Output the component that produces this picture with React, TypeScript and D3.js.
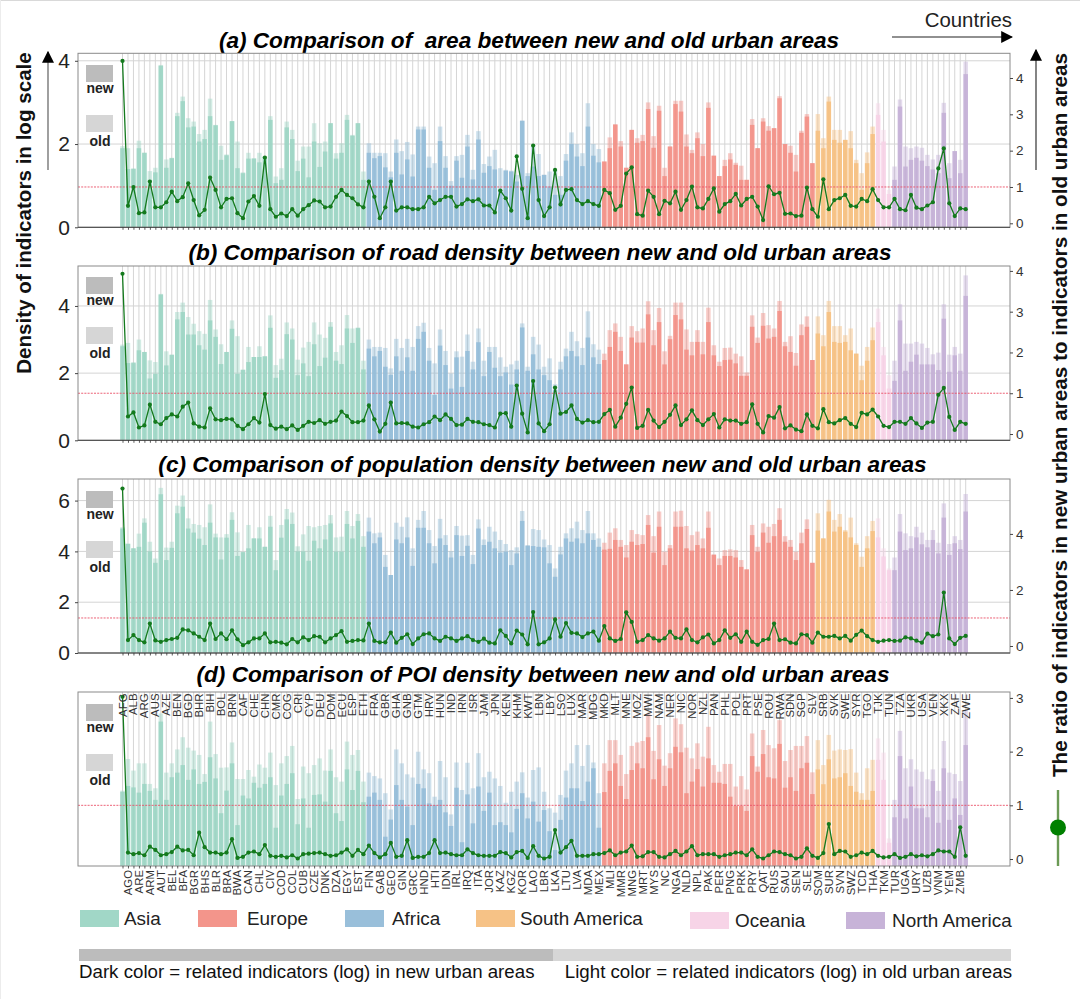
import { useEffect, useRef } from 'react';
import * as d3 from 'd3';

const countries = [
  'AFG','AGO','ALB','ARE','ARG','ARM','AUS','AUT','AZE','BEL',
  'BEN','BFA','BGD','BGR','BHR','BHS','BIH','BLR','BOL','BRA',
  'BRN','BWA','CAF','CAN','CHE','CHL','CHN','CIV','CMR','COD',
  'COG','COL','CRI','CUB','CYP','CZE','DEU','DNK','DOM','DZA',
  'ECU','EGY','ESP','EST','ETH','FIN','FRA','GAB','GBR','GEO',
  'GHA','GIN','GNB','GRC','GTM','HND','HRV','HTI','HUN','IDN',
  'IND','IRL','IRN','IRQ','ISR','ITA','JAM','JOR','JPN','KAZ',
  'KEN','KGZ','KHM','KOR','KWT','LAO','LBN','LBR','LBY','LKA',
  'LSO','LTU','LUX','LVA','MAR','MDA','MDG','MEX','MKD','MLI',
  'MLT','MMR','MNE','MNG','MOZ','MRT','MWI','MYS','NAM','NC',
  'NER','NGA','NIC','NLD','NOR','NPL','NZL','PAK','PAN','PER',
  'PHL','PNG','POL','PRK','PRT','PRY','PSE','QAT','ROU','RUS',
  'RWA','SAU','SDN','SEN','SGP','SLE','SLV','SOM','SRB','SUR',
  'SVK','SVN','SWE','SWZ','SYR','TCD','TGO','THA','TJK','TKM',
  'TUN','TUR','TZA','UGA','UKR','URY','USA','UZB','VEN','VNM',
  'XKX','YEM','ZAF','ZMB','ZWE',
];

// bars per group, in the order they run along the x axis
const groupNames = ['Asia', 'Africa', 'Europe', 'South America', 'Oceania', 'North America'];
const groupCounts = [45, 43, 39, 11, 3, 14];
const groupColors = ['#9cd5c4', '#93bcd8', '#f28f85', '#f6bf7f', '#f7d2e6', '#c4afd6'];

const aOld = [
  1.95,1.9,1.42,2.08,1.79,1.35,1.43,3.9,1.63,1.67,
  2.75,3.14,2.62,2.54,2.24,2.34,3.09,2.46,1.96,1.75,
  2.55,2.06,1.32,1.79,1.66,1.79,1.7,2.67,1.22,1.42,
  2.54,2.34,1.6,1.94,1.94,2.5,2.02,2.06,2.5,1.78,
  2.02,2.7,2.22,2.5,1.34,2.02,1.79,1.79,1.78,1.34,
  2.11,1.83,2.05,1.75,2.42,2.42,1.7,1.54,2.42,1.71,
  1.11,1.71,1.74,2.22,1.38,2.31,1.52,1.7,1.86,1.42,
  1.38,1.36,1.26,2.56,1.3,1.96,1.76,1.26,1.34,1.38,
  1.23,1.76,2.28,2.0,1.78,2.98,2.0,1.88,1.58,2.16,
  2.47,2.07,1.43,2.34,2.14,2.22,3.0,2.19,2.92,1.43,
  1.94,3.04,3.04,2.23,1.86,2.28,2.0,3.0,1.72,1.23,
  1.62,1.78,1.55,1.48,1.14,2.6,1.9,2.62,2.43,2.38,
  3.15,2.0,1.96,1.74,2.32,2.72,1.54,2.72,2.14,3.14,
  2.34,2.34,2.1,2.31,1.62,1.3,1.8,2.42,2.98,2.34,
  0.9,1.46,3.07,1.94,1.9,1.94,1.91,1.74,1.63,1.74,
  2.99,1.54,1.83,1.62,3.98,
];
const aNew = [
  1.9,1.4,1.4,1.9,1.79,1.14,1.32,3.88,1.43,1.66,
  2.67,3.03,2.4,2.42,2.06,2.12,2.67,2.45,1.62,1.73,
  2.55,1.42,1.3,1.65,1.65,1.56,1.7,2.58,1.06,1.14,
  2.4,2.12,1.35,1.65,1.2,2.06,1.45,1.82,2.5,1.65,
  1.79,2.58,2.2,2.5,1.14,1.79,1.66,1.71,1.44,1.2,
  1.79,1.27,1.63,1.22,2.35,2.35,1.43,0.9,2.07,1.43,
  1.0,1.6,1.19,1.94,1.15,2.11,1.31,1.47,1.39,0.9,
  1.36,1.34,1.1,2.56,1.23,1.46,1.23,1.26,0.98,0.78,
  0.78,1.6,2.0,1.7,1.47,2.42,1.72,1.56,1.58,1.9,
  2.47,1.94,1.43,2.34,2.03,2.07,2.84,1.91,2.8,1.23,
  1.94,2.96,2.78,1.94,1.78,2.14,1.71,2.87,1.72,1.23,
  1.47,1.63,1.5,1.14,1.14,2.46,1.9,2.54,2.32,2.38,
  3.1,2.0,1.79,1.34,2.27,2.66,1.54,2.32,1.9,3.02,
  2.1,2.03,2.1,1.9,1.54,0.9,1.54,2.24,2.7,2.06,
  0.8,1.14,2.9,1.46,1.62,1.67,1.6,1.47,1.39,1.3,
  2.75,1.18,1.83,1.3,3.68,
];
const aRatio = [
  4.47,0.48,1.0,0.28,0.3,1.15,0.44,0.44,0.58,0.87,
  0.61,0.72,1.1,0.64,0.22,0.37,1.26,0.92,0.44,0.67,
  0.69,0.28,0.14,0.6,0.75,0.48,1.81,0.39,0.18,0.27,
  0.2,0.39,0.21,0.39,0.5,0.63,0.6,0.44,0.46,0.73,
  0.92,0.78,0.69,0.52,0.44,1.15,0.73,0.14,0.44,1.15,
  0.35,0.44,0.44,0.39,0.39,0.44,0.73,0.55,0.64,0.73,
  0.73,0.46,0.53,0.66,0.61,0.66,0.49,0.49,0.3,0.9,
  0.69,0.35,1.84,0.95,0.14,2.14,0.64,0.2,0.44,1.47,
  0.52,0.92,0.94,0.64,0.53,0.61,0.53,0.48,0.92,0.83,
  0.37,0.48,1.37,1.54,0.25,0.21,0.9,0.73,0.25,0.62,
  0.55,0.87,0.37,0.64,1.01,0.44,0.41,0.67,0.96,0.32,
  0.53,0.61,0.81,0.49,0.67,0.73,0.46,0.09,1.02,0.8,
  0.84,0.26,0.27,0.2,0.21,0.98,0.39,0.18,1.21,0.39,
  0.64,0.69,0.78,0.48,0.46,0.67,0.61,0.94,0.64,0.44,
  0.44,0.67,0.39,0.36,0.78,0.43,0.39,0.49,0.58,1.51,
  2.06,0.55,0.2,0.41,0.39,
];

const bOld = [
  2.85,2.9,2.33,3.0,2.63,2.38,2.33,4.36,2.65,2.56,
  3.82,4.1,3.67,3.47,3.25,3.17,4.18,3.3,2.86,2.63,
  3.57,3.1,2.1,2.78,2.48,2.8,2.5,3.72,2.24,2.43,
  3.51,3.33,2.4,2.76,2.93,3.51,3.15,3.05,3.52,2.63,
  2.83,3.73,3.33,3.36,2.37,3.0,2.78,2.78,2.75,2.14,
  3.02,2.75,3.02,2.78,3.4,3.5,2.75,2.29,3.3,2.66,
  1.99,2.65,2.49,3.15,2.34,3.33,2.37,2.78,2.78,2.47,
  2.19,2.26,2.37,3.48,2.19,3.08,2.85,2.19,2.44,1.67,
  2.34,2.73,3.23,2.95,2.75,3.84,2.86,2.7,2.58,3.28,
  3.48,3.08,2.26,3.4,3.25,3.33,4.14,3.28,3.94,2.65,
  3.11,4.1,4.1,3.3,2.93,3.28,2.93,3.95,2.83,2.34,
  2.75,2.76,2.58,2.5,2.02,3.72,3.06,3.79,3.43,3.33,
  4.15,2.93,3.1,2.6,3.45,3.69,2.39,3.69,3.13,4.15,
  3.4,3.4,3.13,3.33,2.58,2.22,2.78,3.36,3.92,2.78,
  1.94,2.37,4.05,2.88,2.88,2.93,2.88,2.75,2.56,2.61,
  4.05,2.55,2.78,2.58,4.91,
];
const bNew = [
  2.8,2.3,2.3,2.68,2.63,1.84,1.98,4.34,2.23,2.54,
  3.6,3.82,3.15,3.15,2.83,2.7,3.57,3.08,2.27,2.63,
  3.32,1.98,2.1,2.33,2.48,2.48,2.5,3.35,1.86,2.09,
  3.16,3.0,1.94,2.29,1.91,2.86,2.21,2.46,3.38,2.37,
  2.27,3.33,2.9,3.34,2.11,2.73,2.5,2.66,2.19,1.95,
  2.5,2.07,2.47,2.07,3.02,3.23,2.37,1.35,2.82,2.24,
  1.54,2.47,1.59,2.66,2.11,2.92,1.91,2.63,2.16,1.91,
  2.02,1.66,2.11,3.36,2.07,2.56,2.11,1.94,1.79,1.5,
  2.11,2.5,2.66,2.5,2.24,3.06,2.47,2.27,2.39,2.78,
  3.23,2.66,2.26,3.06,2.91,2.91,3.75,2.83,3.52,2.26,
  3.01,3.73,3.6,2.7,2.53,2.93,2.56,3.52,2.53,2.21,
  2.39,2.4,2.29,1.92,1.92,3.38,2.9,3.41,3.03,3.08,
  3.85,2.8,2.63,2.22,3.13,3.38,2.39,3.18,2.8,3.82,
  2.93,2.9,2.93,2.68,2.58,1.79,2.37,2.98,3.52,2.53,
  1.54,1.77,3.57,2.07,2.34,2.55,2.26,2.26,2.26,2.09,
  3.62,2.04,2.53,2.07,4.3,
];
const bRatio = [
  3.93,0.43,0.53,0.16,0.21,0.72,0.3,0.24,0.39,0.48,
  0.43,0.67,0.77,0.26,0.18,0.16,0.63,0.36,0.34,0.37,
  0.36,0.2,0.12,0.24,0.39,0.28,0.98,0.22,0.13,0.18,
  0.12,0.21,0.1,0.2,0.3,0.27,0.34,0.25,0.3,0.33,
  0.55,0.44,0.29,0.29,0.33,0.7,0.36,0.06,0.25,0.77,
  0.26,0.27,0.26,0.18,0.16,0.24,0.29,0.43,0.34,0.48,
  0.37,0.22,0.23,0.37,0.3,0.29,0.24,0.22,0.16,0.5,
  0.51,0.18,1.19,0.5,0.04,1.3,0.26,0.07,0.24,1.14,
  0.5,0.54,0.7,0.37,0.28,0.34,0.29,0.3,0.49,0.59,
  0.18,0.4,0.74,1.14,0.15,0.2,0.59,0.33,0.17,0.3,
  0.47,0.7,0.22,0.36,0.58,0.34,0.22,0.36,0.49,0.16,
  0.36,0.33,0.33,0.25,0.29,0.73,0.25,0.04,0.44,0.4,
  0.66,0.14,0.21,0.11,0.07,0.48,0.2,0.14,0.61,0.29,
  0.26,0.34,0.39,0.25,0.17,0.52,0.48,0.6,0.43,0.2,
  0.17,0.3,0.3,0.25,0.39,0.26,0.15,0.28,0.3,0.96,
  1.13,0.42,0.1,0.3,0.25,
];

const cOld = [
  4.95,4.3,4.12,4.7,5.3,4.38,3.72,6.5,4.15,4.38,
  5.8,6.2,5.3,5.08,5.04,4.95,5.85,4.7,4.55,4.68,
  5.54,4.75,3.99,5.04,4.51,4.95,4.18,5.4,3.66,5.04,
  5.67,5.53,4.2,4.67,5.0,4.95,5.0,5.04,5.43,4.55,
  4.58,5.59,5.0,5.47,4.6,5.33,4.71,4.74,3.86,3.07,
  5.13,4.97,5.34,4.12,5.24,5.59,4.84,4.21,5.28,4.64,
  4.01,5.0,4.62,4.64,3.86,5.26,4.47,4.97,4.78,4.45,
  4.29,4.05,4.16,5.59,4.25,4.88,4.84,4.47,4.25,3.33,
  4.18,4.71,4.91,5.17,4.84,5.59,4.71,4.51,4.34,4.74,
  4.91,4.45,4.25,4.84,4.68,4.64,5.43,4.6,5.57,3.99,
  4.25,5.57,5.6,5.0,4.64,4.78,4.51,5.57,3.89,3.72,
  4.05,4.08,4.05,3.66,3.29,5.04,4.18,5.1,4.97,5.08,
  5.7,4.6,4.45,3.99,4.74,5.26,3.55,5.5,4.51,6.03,
  5.24,5.47,4.84,5.33,4.32,3.79,4.6,5.2,5.3,4.12,
  3.33,3.76,5.47,4.71,4.6,4.97,4.74,4.45,4.84,4.34,
  5.89,4.29,4.6,4.45,6.26,
];
const cNew = [
  4.9,4.3,4.12,4.18,5.13,4.0,3.55,6.25,3.66,4.14,
  5.5,5.76,4.9,4.74,4.5,4.25,5.13,4.55,3.68,4.54,
  5.24,3.82,3.97,4.12,4.51,4.51,4.18,4.97,3.26,4.54,
  5.26,5.08,4.0,4.0,3.63,4.42,4.12,4.47,5.1,3.99,
  3.99,5.08,4.51,5.2,4.18,4.78,4.32,4.55,3.39,3.07,
  4.47,4.32,4.55,3.43,4.93,4.93,4.32,3.53,4.51,4.25,
  3.76,4.64,3.82,4.22,3.5,4.9,4.25,4.38,4.12,3.95,
  3.99,3.46,3.92,5.2,4.22,4.21,4.18,4.16,3.53,3.0,
  3.88,4.51,4.38,4.51,4.32,4.71,4.45,4.18,4.07,4.1,
  4.45,4.18,3.76,4.38,4.25,4.29,5.04,3.95,4.97,3.46,
  4.12,4.97,4.97,4.12,4.03,4.25,4.12,4.93,3.86,3.46,
  3.82,3.82,3.76,3.39,3.29,4.64,3.99,4.74,4.34,4.6,
  5.24,4.38,4.18,3.66,4.32,4.88,3.55,4.82,4.51,5.57,
  4.78,4.97,4.78,4.55,4.25,3.39,4.12,4.8,4.55,3.8,
  3.26,3.26,4.78,4.05,4.12,4.55,4.28,4.16,4.45,3.92,
  5.33,3.86,4.32,4.09,5.57,
];
const cRatio = [
  5.62,0.21,0.39,0.21,0.13,0.8,0.2,0.15,0.21,0.25,
  0.29,0.59,0.56,0.45,0.33,0.21,0.8,0.25,0.45,0.24,
  0.56,0.24,0.03,0.13,0.27,0.27,0.45,0.13,0.15,0.12,
  0.06,0.25,0.13,0.31,0.21,0.35,0.33,0.13,0.27,0.39,
  0.53,0.15,0.18,0.21,0.2,0.8,0.18,0.13,0.13,0.48,
  0.12,0.29,0.42,0.07,0.27,0.42,0.45,0.27,0.18,0.33,
  0.27,0.18,0.27,0.35,0.21,0.15,0.26,0.12,0.09,0.56,
  0.36,0.09,0.55,0.41,0.06,1.21,0.06,0.13,0.27,0.95,
  0.33,0.82,0.47,0.45,0.32,0.45,0.51,0.19,0.71,0.27,
  0.18,0.25,1.2,0.86,0.15,0.21,0.39,0.27,0.19,0.27,
  0.51,0.29,0.27,0.59,0.21,0.13,0.31,0.41,0.09,0.21,
  0.56,0.29,0.42,0.15,0.51,0.15,0.04,0.21,0.25,0.8,
  0.21,0.24,0.12,0.09,0.42,0.39,0.12,0.48,0.33,0.33,
  0.36,0.27,0.36,0.19,0.4,0.55,0.35,0.21,0.15,0.19,
  0.21,0.18,0.19,0.31,0.27,0.19,0.12,0.44,0.35,0.41,
  1.91,0.27,0.07,0.29,0.36,
];

const dOld = [
  2.6,3.69,3.29,3.54,3.54,2.83,2.68,5.26,3.22,3.54,
  4.02,4.44,4.08,3.98,3.83,3.17,4.98,3.86,3.39,3.4,
  4.26,3.0,3.0,3.31,3.08,3.5,3.39,3.91,2.79,3.54,
  3.79,4.14,2.31,3.43,3.2,3.48,3.71,3.29,4.02,3.06,
  2.91,4.29,3.83,4.0,2.91,3.22,3.1,3.02,2.51,1.95,
  4.02,3.54,3.16,3.05,3.94,3.33,3.2,2.39,3.62,3.06,
  1.78,3.57,2.62,3.56,2.68,3.89,3.06,3.25,3.02,2.76,
  2.18,2.56,2.91,3.23,2.36,3.31,3.4,2.56,1.99,1.84,
  2.45,3.29,3.54,4.17,3.45,4.17,3.57,2.51,3.54,4.34,
  4.34,3.83,3.17,4.14,4.26,4.31,5.26,3.97,4.86,3.46,
  3.89,5.09,4.89,4.08,3.71,4.23,3.77,4.8,3.48,3.25,
  3.52,3.52,2.74,3.1,2.64,4.57,3.43,4.69,4.17,4.06,
  5.03,3.62,4.0,4.14,4.14,4.48,3.23,4.34,3.48,4.52,
  3.98,4.02,4.0,4.03,3.22,2.51,3.37,3.66,4.4,3.91,
  0.95,2.28,4.66,3.37,3.68,3.33,3.25,2.99,3.33,2.59,
  4.31,3.22,3.17,2.93,5.38,
];
const dNew = [
  2.56,2.76,2.71,2.53,2.83,2.59,2.28,4.98,2.28,3.06,
  3.22,3.48,2.97,3.33,2.83,2.9,3.75,3.02,1.82,2.6,
  3.54,1.41,2.43,2.33,2.87,2.7,2.83,3.06,1.32,2.43,
  2.83,3.2,1.44,2.33,1.32,2.45,2.47,2.22,3.28,1.82,
  1.55,3.33,2.62,3.28,2.2,2.39,2.53,2.28,1.01,1.6,
  2.79,2.28,2.05,1.41,2.83,2.68,2.16,2.1,2.28,1.85,
  1.38,2.7,0.82,2.47,1.47,2.74,1.9,2.53,1.41,1.51,
  1.41,1.16,1.97,2.51,1.64,2.22,1.53,1.93,1.2,0.55,
  1.59,2.36,2.68,2.68,2.24,2.91,3.37,1.32,2.55,3.28,
  3.54,2.76,2.31,3.31,3.54,3.37,4.44,2.99,3.68,2.76,
  3.37,4.11,3.92,2.51,2.91,3.34,2.74,3.71,2.87,2.87,
  2.83,2.39,2.08,2.07,1.9,3.79,3.25,3.86,3.06,3.02,
  4.21,2.7,3.06,2.59,3.37,3.56,2.48,3.33,2.82,3.68,
  3.02,3.06,3.2,2.76,2.56,2.28,2.28,2.59,3.66,2.97,
  0.8,1.68,3.79,1.64,2.74,1.99,1.99,1.68,2.93,1.49,
  3.37,1.59,2.33,1.76,4.17,
];
const dRatio = [
  3.02,0.12,0.09,0.11,0.07,0.23,0.17,0.07,0.09,0.13,
  0.23,0.16,0.17,0.07,0.49,0.22,0.12,0.12,0.09,0.12,
  0.37,0.02,0.04,0.12,0.14,0.09,0.26,0.06,0.04,0.06,
  0.03,0.07,0.01,0.09,0.1,0.11,0.12,0.09,0.06,0.07,
  0.12,0.18,0.06,0.17,0.09,0.25,0.11,0.03,0.09,0.3,
  0.04,0.06,0.35,0.02,0.04,0.04,0.11,0.35,0.11,0.12,
  0.09,0.07,0.07,0.18,0.11,0.07,0.06,0.06,0.06,0.13,
  0.11,0.03,0.13,0.15,0.02,0.24,0.06,0.01,0.04,0.54,
  0.12,0.22,0.34,0.06,0.06,0.06,0.09,0.09,0.11,0.16,
  0.07,0.12,0.14,0.25,0.04,0.05,0.13,0.13,0.04,0.03,
  0.09,0.15,0.07,0.14,0.24,0.07,0.09,0.09,0.09,0.04,
  0.07,0.09,0.12,0.12,0.07,0.18,0.04,0.01,0.07,0.14,
  0.13,0.09,0.07,0.01,0.04,0.2,0.06,0.02,0.11,0.65,
  0.09,0.15,0.14,0.04,0.07,0.12,0.09,0.15,0.06,0.03,
  0.04,0.09,0.02,0.04,0.09,0.05,0.07,0.05,0.09,0.16,
  0.14,0.14,0.04,0.59,0.06,
];

const titles = [
  '(a) Comparison of  area between new and old urban areas',
  '(b) Comparison of road density between new and old urban areas',
  '(c) Comparison of population density between new and old urban areas',
  '(d) Comparison of POI density between new and old urban areas',
];

const panels = [
  { title: titles[0], old: aOld, neu: aNew, ratio: aRatio, top: 53.3, bottom: 227.3, titleY: 48, leftMax: 4.18, leftTicks: [0, 2, 4], grid: [2, 4], rightDomain: [-0.11, 4.68], rightTicks: [0, 1, 2, 3, 4], keyY: 65 },
  { title: titles[1], old: bOld, neu: bNew, ratio: bRatio, top: 266, bottom: 440.3, titleY: 260, leftMax: 5.19, leftTicks: [0, 2, 4], grid: [2, 4], rightDomain: [-0.154, 4.12], rightTicks: [0, 1, 2, 3, 4], keyY: 277 },
  { title: titles[2], old: cOld, neu: cNew, ratio: cRatio, top: 479, bottom: 653, titleY: 472, leftMax: 6.85, leftTicks: [0, 2, 4, 6], grid: [2, 4, 6], rightDomain: [-0.25, 5.96], rightTicks: [0, 2, 4], keyY: 491 },
  { title: titles[3], old: dOld, neu: dNew, ratio: dRatio, top: 692, bottom: 866, titleY: 682, leftMax: 6, leftTicks: [] as number[], grid: [] as number[], rightDomain: [-0.13, 3.11], rightTicks: [0, 1, 2, 3], keyY: 704 },
];

const legendItems = [
  { name: 'Asia', x: 80, tx: 124, y: 910 },
  { name: 'Europe', x: 198, tx: 247, y: 910 },
  { name: 'Africa', x: 345, tx: 392, y: 910 },
  { name: 'South America', x: 476, tx: 520, y: 910 },
  { name: 'Oceania', x: 690, tx: 735, y: 912 },
  { name: 'North America', x: 846, tx: 892, y: 912 },
];

const FONT = '"Liberation Sans", Arial, sans-serif';

function groupOf(i: number) {
  let n = 0;
  for (let g = 0; g < groupCounts.length; g++) {
    n += groupCounts[g];
    if (i < n) return g;
  }
  return groupCounts.length - 1;
}

export default function App() {
  const svgRef = useRef<SVGSVGElement | null>(null);

  useEffect(() => {
    if (!svgRef.current) return;
    const svg = d3.select(svgRef.current);
    svg.selectAll('*').remove();
    svg.style('font-family', FONT);

    const boxLeft = 78;
    const boxRight = 1010;
    const x = d3.scalePoint<string>().domain(countries).range([122.5, 965.7]);
    const barW = 4.5;
    const color = d3.scaleOrdinal<string, string>().domain(groupNames).range(groupColors);

    // arrowhead
    const defs = svg.append('defs');
    defs.append('marker').attr('id', 'head')
      .attr('viewBox', '0 0 10 10').attr('refX', 9).attr('refY', 5)
      .attr('markerWidth', 12).attr('markerHeight', 12).attr('markerUnits', 'userSpaceOnUse')
      .attr('orient', 'auto')
      .append('path').attr('d', 'M0,0L10,5L0,10Z').attr('fill', '#000');

    // faint page edge of the picture
    svg.append('line').attr('x1', 0).attr('x2', 1080).attr('y1', 0.5).attr('y2', 0.5).attr('stroke', '#d9d9d9');
    svg.append('line').attr('x1', 0.5).attr('x2', 0.5).attr('y1', 0).attr('y2', 999).attr('stroke', '#ececec');

    panels.forEach((p, pi) => {
      const g = svg.append('g');
      const yL = d3.scaleLinear().domain([0, p.leftMax]).range([p.bottom, p.top]);
      const yR = d3.scaleLinear().domain(p.rightDomain).range([p.bottom, p.top]);

      g.append('text')
        .attr('x', 540 + [-11, 0, 2.5, 3][pi])
        .attr('y', p.titleY)
        .attr('text-anchor', 'middle')
        .attr('font-size', 22.6)
        .attr('font-weight', 700)
        .attr('font-style', 'italic')
        .attr('xml:space', 'preserve')
        .style('white-space', 'pre')
        .attr('fill', '#000')
        .text(p.title);

      // vertical and horizontal grid
      g.selectAll('.vg').data(countries).enter().append('line')
        .attr('x1', (d) => x(d) ?? 0).attr('x2', (d) => x(d) ?? 0)
        .attr('y1', p.top).attr('y2', p.bottom)
        .attr('stroke', '#cacaca').attr('stroke-width', 0.8);
      g.selectAll('.hg').data(p.grid).enter().append('line')
        .attr('x1', boxLeft).attr('x2', boxRight)
        .attr('y1', (d) => yL(d)).attr('y2', (d) => yL(d))
        .attr('stroke', '#d4d4d4').attr('stroke-width', 1);

      // old urban areas behind, new urban areas in front
      g.selectAll('.old').data(p.old).enter().append('rect')
        .attr('x', (_d, i) => (x(countries[i]) ?? 0) - barW / 2)
        .attr('width', barW)
        .attr('y', (d) => yL(d))
        .attr('height', (d) => p.bottom - yL(d))
        .attr('fill', (_d, i) => color(groupNames[groupOf(i)]))
        .attr('fill-opacity', 0.45);
      g.selectAll('.neu').data(p.neu).enter().append('rect')
        .attr('x', (_d, i) => (x(countries[i]) ?? 0) - barW / 2)
        .attr('width', barW)
        .attr('y', (d) => yL(d))
        .attr('height', (d) => p.bottom - yL(d))
        .attr('fill', (_d, i) => color(groupNames[groupOf(i)]))
        .attr('fill-opacity', 0.88);

      // ratio = 1
      g.append('line')
        .attr('x1', boxLeft).attr('x2', boxRight)
        .attr('y1', yR(1)).attr('y2', yR(1))
        .attr('stroke', '#ea5068').attr('stroke-width', 0.9)
        .attr('stroke-dasharray', '2,1.2');

      // ratio line
      const line = d3.line<number>()
        .x((_d, i) => x(countries[i]) ?? 0)
        .y((d) => yR(d));
      g.append('path').datum(p.ratio)
        .attr('fill', 'none').attr('stroke', '#147a1d').attr('stroke-width', 1.3)
        .attr('d', line);
      g.selectAll('.dot').data(p.ratio).enter().append('circle')
        .attr('cx', (_d, i) => x(countries[i]) ?? 0)
        .attr('cy', (d) => yR(d))
        .attr('r', 2.1)
        .attr('fill', '#147a1d');

      // panel box
      g.append('rect')
        .attr('x', boxLeft).attr('y', p.top)
        .attr('width', boxRight - boxLeft).attr('height', p.bottom - p.top)
        .attr('fill', 'none').attr('stroke', '#8a8a8a').attr('stroke-width', 1);

      // new / old key
      g.append('rect').attr('x', 86).attr('y', p.keyY).attr('width', 27).attr('height', 17).attr('fill', '#bcbcbc');
      g.append('text').attr('x', 100).attr('y', p.keyY + 28).attr('text-anchor', 'middle')
        .attr('font-size', 14).attr('font-weight', 700).attr('fill', '#222').text('new');
      g.append('rect').attr('x', 86).attr('y', p.keyY + 50).attr('width', 27).attr('height', 17).attr('fill', '#d6d6d6');
      g.append('text').attr('x', 100).attr('y', p.keyY + 81).attr('text-anchor', 'middle')
        .attr('font-size', 14).attr('font-weight', 700).attr('fill', '#222').text('old');

      // left axis
      if (p.leftTicks.length) {
        const ax = g.append('g').attr('transform', `translate(${boxLeft},0)`)
          .call(d3.axisLeft(yL).tickValues(p.leftTicks).tickSize(3).tickPadding(5).tickFormat((d) => String(d)));
        ax.select('.domain').remove();
        ax.selectAll('line').attr('stroke', '#444');
        ax.selectAll('text').attr('fill', '#222').style('font-size', '21px').style('font-family', FONT);
      }

      // right axis
      const axR = g.append('g').attr('transform', `translate(${boxRight},0)`)
        .call(d3.axisRight(yR).tickValues(p.rightTicks).tickSize(3).tickPadding(3).tickFormat((d) => String(d)));
      axR.select('.domain').remove();
      axR.selectAll('line').attr('stroke', '#444');
      axR.selectAll('text').attr('fill', '#333').style('font-size', '13.5px').style('font-family', FONT);

      // country ticks
      if (pi < 3) {
        g.append('line').attr('x1', boxLeft).attr('x2', boxRight)
          .attr('y1', p.bottom).attr('y2', p.bottom).attr('stroke', '#444').attr('stroke-width', 1);
        const axB = g.append('g').attr('transform', `translate(0,${p.bottom})`)
          .call(d3.axisBottom(x).tickSize(2.5).tickFormat(() => ''));
        axB.select('.domain').remove();
        axB.selectAll('line').attr('stroke', '#333').attr('stroke-width', 0.8);
      } else {
        const axB = g.append('g').attr('transform', `translate(0,${p.bottom})`)
          .call(d3.axisBottom(x).tickSize(2.5).tickFormat(() => ''));
        axB.select('.domain').remove();
        axB.selectAll('line').attr('stroke', '#333').attr('stroke-width', 0.8);

        // alternating labels: odd ones below the panel, even ones inside at the top
        g.selectAll('.lab').data(countries).enter().append('text')
          .attr('transform', (d, i) => {
            const yy = i % 2 === 0 ? p.top + 1.5 : p.bottom + 4;
            return `translate(${(x(d) ?? 0) + 4},${yy}) rotate(-90)`;
          })
          .attr('text-anchor', 'end')
          .attr('font-size', 11.4)
          .attr('fill', '#333')
          .text((d) => d);
      }
    });

    // y titles
    svg.append('text')
      .attr('transform', 'translate(31,213) rotate(-90)')
      .attr('text-anchor', 'middle').attr('font-size', 20.6).attr('font-weight', 700).attr('fill', '#111')
      .text('Density of indicators in log scale');
    svg.append('text')
      .attr('transform', 'translate(1067,415) rotate(-90)')
      .attr('text-anchor', 'middle').attr('font-size', 20.7).attr('font-weight', 700).attr('fill', '#111')
      .text('The ratio of indicators in new urban areas to indicators in old urban areas');

    // arrows
    svg.append('line').attr('x1', 48).attr('x2', 48).attr('y1', 170).attr('y2', 52)
      .attr('stroke', '#777').attr('stroke-width', 1.4).attr('marker-end', 'url(#head)');
    svg.append('line').attr('x1', 1036).attr('x2', 1036).attr('y1', 170).attr('y2', 50)
      .attr('stroke', '#333').attr('stroke-width', 1.2).attr('marker-end', 'url(#head)');
    svg.append('line').attr('x1', 892).attr('x2', 1012).attr('y1', 37).attr('y2', 37)
      .attr('stroke', '#222').attr('stroke-width', 1.2).attr('marker-end', 'url(#head)');
    svg.append('text').attr('x', 1012).attr('y', 27).attr('text-anchor', 'end')
      .attr('font-size', 20.4).attr('fill', '#222').text('Countries');

    // ratio symbol at the right
    svg.append('line').attr('x1', 1058).attr('x2', 1058).attr('y1', 790).attr('y2', 866)
      .attr('stroke', '#6b9a55').attr('stroke-width', 2.4);
    svg.append('circle').attr('cx', 1058).attr('cy', 827.5).attr('r', 8).attr('fill', '#008000');

    // continent legend
    legendItems.forEach((d) => {
      svg.append('rect').attr('x', d.x).attr('y', d.y).attr('width', 39).attr('height', 17)
        .attr('fill', color(d.name)).attr('fill-opacity', 0.95);
      svg.append('text').attr('x', d.tx).attr('y', d.y + 15).attr('font-size', 18.9).attr('fill', '#222').text(d.name);
    });

    // dark / light strip
    svg.append('rect').attr('x', 79).attr('y', 949).attr('width', 474).attr('height', 12).attr('fill', '#bcbcbc');
    svg.append('rect').attr('x', 553).attr('y', 949).attr('width', 458).attr('height', 12).attr('fill', '#d6d6d6');
    svg.append('text').attr('x', 79).attr('y', 978).attr('font-size', 18.7).attr('fill', '#111')
      .text('Dark color = related indicators (log) in new urban areas');
    svg.append('text').attr('x', 1012).attr('y', 978).attr('text-anchor', 'end').attr('font-size', 18.7).attr('fill', '#111')
      .text('Light color = related indicators (log) in old urban areas');
  }, []);

  return (
    <svg
      ref={svgRef}
      width={1080}
      height={999}
      style={{ position: 'absolute', left: 0, top: 0, background: '#fff' }}
    />
  );
}
